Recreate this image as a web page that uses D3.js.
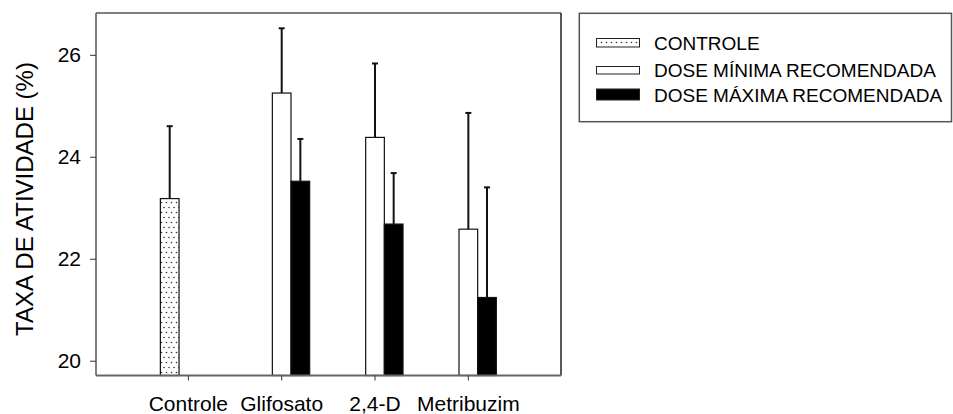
<!DOCTYPE html>
<html>
<head>
<meta charset="utf-8">
<script src="https://cdn.jsdelivr.net/npm/d3@7"></script>
<style>
  html, body { margin: 0; padding: 0; background: #fff; }
  svg { display: block; font-family: "Liberation Sans", Arial, sans-serif; }
</style>
</head>
<body>
<svg id="chart" width="953" height="414"></svg>
<script>
// ---- data ----
const categories = ["Controle", "Glifosato", "2,4-D", "Metribuzim"];
const seriesNames = ["CONTROLE", "DOSE MÍNIMA RECOMENDADA", "DOSE MÁXIMA RECOMENDADA"];
// mean values per series (null = no bar)
const controleValues = [23.18, null, null, null];
const minimaValues   = [null, 25.25, 24.38, 22.58];
const maximaValues   = [null, 23.52, 22.68, 21.24];
// standard deviations (upper error bar)
const controleErrors = [1.42, null, null, null];
const minimaErrors   = [null, 1.27, 1.45, 2.28];
const maximaErrors   = [null, 0.83, 1.00, 2.16];
const yTicks = [20, 22, 24, 26];

// ---- layout ----
const svg = d3.select("#chart");
const plot = { left: 96, top: 13, right: 561, bottom: 375.5 };

const x = d3.scaleBand().domain(categories).range([141.7, 515]).paddingInner(0.4).paddingOuter(0.2);
const slot = d3.scaleBand().domain([0, 1, 2]).range([0, x.bandwidth()]);
const y = d3.scaleLinear().domain([19.71, 26.82]).range([plot.bottom, plot.top]);

// pattern for CONTROLE
const defs = svg.append("defs");
const pat = defs.append("pattern").attr("id", "dots").attr("patternUnits", "userSpaceOnUse")
  .attr("width", 5).attr("height", 10);
pat.append("rect").attr("width", 5).attr("height", 10).attr("fill", "#fff");
pat.append("circle").attr("cx", 1.5).attr("cy", 2.5).attr("r", 0.8).attr("fill", "#333");
pat.append("circle").attr("cx", 4).attr("cy", 7.5).attr("r", 0.8).attr("fill", "#333");

const fills = ["url(#dots)", "#fff", "#000"];
const series = [
  { values: controleValues, errors: controleErrors },
  { values: minimaValues, errors: minimaErrors },
  { values: maximaValues, errors: maximaErrors }
];

const marks = [];
series.forEach((s, si) => {
  s.values.forEach((v, ci) => {
    if (v != null) marks.push({ cat: categories[ci], si, v, e: s.errors[ci] });
  });
});

const g = svg.append("g");
g.selectAll("line.err").data(marks).join("line").attr("class", "err")
  .attr("x1", d => x(d.cat) + slot(d.si) + slot.bandwidth() / 2)
  .attr("x2", d => x(d.cat) + slot(d.si) + slot.bandwidth() / 2)
  .attr("y1", d => y(d.v)).attr("y2", d => y(d.v + d.e))
  .attr("stroke", "#111").attr("stroke-width", 2);
g.selectAll("line.cap").data(marks).join("line").attr("class", "cap")
  .attr("x1", d => x(d.cat) + slot(d.si) + slot.bandwidth() / 2 - 3)
  .attr("x2", d => x(d.cat) + slot(d.si) + slot.bandwidth() / 2 + 3)
  .attr("y1", d => y(d.v + d.e)).attr("y2", d => y(d.v + d.e))
  .attr("stroke", "#111").attr("stroke-width", 2);

g.selectAll("rect.bar").data(marks).join("rect").attr("class", "bar")
  .attr("x", d => x(d.cat) + slot(d.si))
  .attr("width", slot.bandwidth())
  .attr("y", d => y(d.v))
  .attr("height", d => plot.bottom - y(d.v))
  .attr("fill", d => fills[d.si])
  .attr("stroke", "#111").attr("stroke-width", 1.2);

// frame
svg.append("line").attr("x1", plot.left).attr("x2", plot.right).attr("y1", plot.top).attr("y2", plot.top)
  .attr("stroke", "#555").attr("stroke-width", 1.5);
svg.append("line").attr("x1", plot.right).attr("x2", plot.right).attr("y1", plot.top).attr("y2", plot.bottom)
  .attr("stroke", "#222").attr("stroke-width", 1.5);

// axes
const yAxis = svg.append("g").attr("transform", `translate(${plot.left},0)`)
  .call(d3.axisLeft(y).tickValues(yTicks).tickSize(6).tickPadding(9).tickFormat(d3.format("d")));
yAxis.select(".domain").attr("d", `M0,${plot.top}V${plot.bottom}`).attr("stroke", "#555").attr("stroke-width", 1.5);
yAxis.selectAll(".tick line").attr("stroke", "#333");
yAxis.selectAll("text").attr("font-size", 21).attr("fill", "#000").attr("font-family", "Liberation Sans, Arial, sans-serif");

const xAxis = svg.append("g").attr("transform", `translate(0,${plot.bottom})`)
  .call(d3.axisBottom(x).tickSize(5).tickPadding(16));
xAxis.select(".domain").attr("d", `M${plot.left},0H${plot.right}`).attr("stroke", "#666").attr("stroke-width", 2);
xAxis.selectAll(".tick line").attr("stroke", "#333");
xAxis.selectAll("text").attr("font-size", 21).attr("fill", "#000").attr("font-family", "Liberation Sans, Arial, sans-serif");

// y title
svg.append("text").attr("transform", "translate(33,199) rotate(-90)")
  .attr("text-anchor", "middle").attr("font-size", 24).attr("fill", "#000")
  .text("TAXA DE ATIVIDADE (%)");

// legend
const leg = svg.append("g");
leg.append("rect").attr("x", 579.3).attr("y", 13.3).attr("width", 372.2).attr("height", 108.4)
  .attr("fill", "#fff").attr("stroke", "#555").attr("stroke-width", 1.5);
const legRows = [
  { name: seriesNames[0], fill: fills[0], sy: 38.5, sh: 8.5, ty: 43 },
  { name: seriesNames[1], fill: fills[1], sy: 66.5, sh: 7.5, ty: 69.7 },
  { name: seriesNames[2], fill: fills[2], sy: 89, sh: 11, ty: 94.7 }
];
const li = leg.selectAll("g.item").data(legRows).join("g").attr("class", "item");
li.append("rect").attr("x", 596.5).attr("y", d => d.sy).attr("width", 43).attr("height", d => d.sh)
  .attr("fill", d => d.fill).attr("stroke", "#222").attr("stroke-width", 1);
li.append("text").attr("x", 654).attr("y", d => d.ty).attr("dy", "0.36em")
  .attr("font-size", 19).attr("fill", "#000").text(d => d.name);
</script>
</body>
</html>
